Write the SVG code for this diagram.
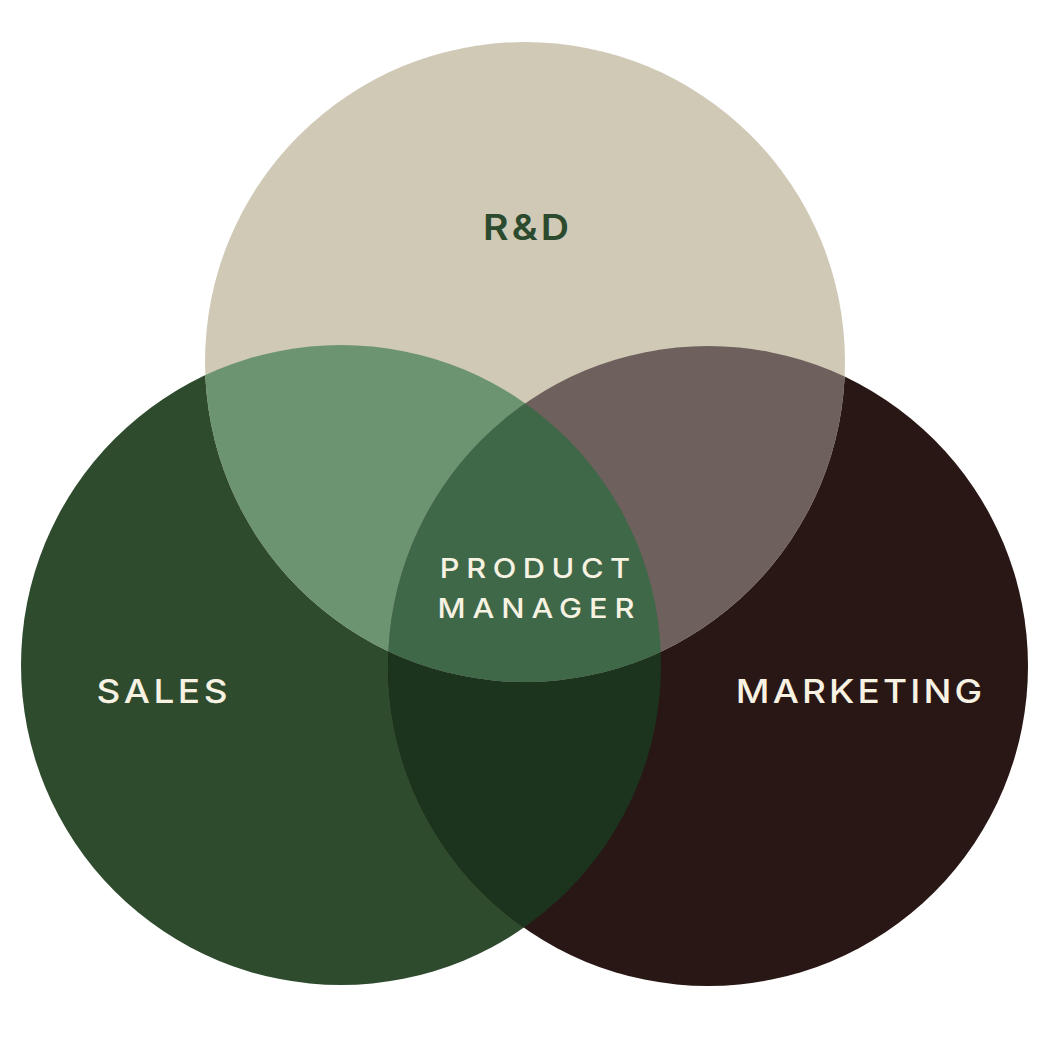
<svg xmlns="http://www.w3.org/2000/svg" width="1050" height="1050" viewBox="0 0 1050 1050">
<style>
.lbl{font-family:Inter,Lato,"Liberation Sans",sans-serif;font-weight:500;fill:#F7F2E2;text-anchor:middle}
.rd{fill:#2C4A2E;font-weight:600}
</style>
<defs>
<clipPath id="cL"><circle cx="341" cy="665" r="320"/></clipPath>
<clipPath id="cR"><circle cx="708" cy="666" r="320"/></clipPath>
</defs>
<rect width="1050" height="1050" fill="#ffffff"/>
<g id="sales"><circle cx="341" cy="665" r="320" fill="#2E4B2E"/></g>
<g id="marketing"><circle cx="708" cy="666" r="320" fill="#291715"/></g>
<g id="rnd"><circle cx="525" cy="362" r="320" fill="#D0C9B6"/></g>
<g id="overlaps">
<g clip-path="url(#cL)"><circle cx="708" cy="666" r="320" fill="#1C341D"/></g>
<g clip-path="url(#cL)"><circle cx="525" cy="362" r="320" fill="#6C9471"/></g>
<g clip-path="url(#cR)"><circle cx="525" cy="362" r="320" fill="#6E605C"/></g>
<g clip-path="url(#cL)"><g clip-path="url(#cR)"><circle cx="525" cy="362" r="320" fill="#3F6848"/></g></g>
</g>
<g id="labels">
<text class="lbl rd" transform="translate(526 240) scale(1.12 1)" font-size="35" textLength="77" lengthAdjust="spacing">R&amp;D</text>
<text class="lbl" transform="translate(535 578) scale(1.12 1)" font-size="27.5" textLength="170" lengthAdjust="spacing">PRODUCT</text>
<text class="lbl" transform="translate(536 618) scale(1.12 1)" font-size="27.5" textLength="176" lengthAdjust="spacing">MANAGER</text>
<text class="lbl" transform="translate(162 703) scale(1.12 1)" font-size="33" textLength="117" lengthAdjust="spacing">SALES</text>
<text class="lbl" transform="translate(859 703) scale(1.12 1)" font-size="33" textLength="220" lengthAdjust="spacing">MARKETING</text>
</g>
</svg>
